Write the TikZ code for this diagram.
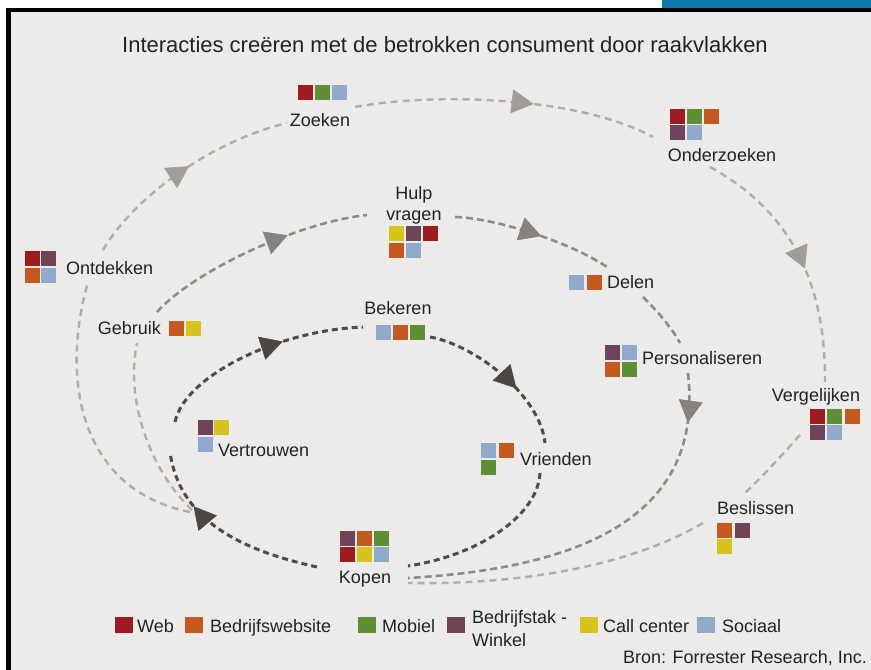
\documentclass[tikz,border=0pt]{standalone}
\usepackage{fontspec}
\setmainfont{Liberation Sans}
\usetikzlibrary{arrows.meta,decorations.markings}
\definecolor{cWeb}{HTML}{9E1C20}
\definecolor{cSite}{HTML}{C4591F}
\definecolor{cMob}{HTML}{5F8F35}
\definecolor{cShop}{HTML}{6F4358}
\definecolor{cCall}{HTML}{D6C41C}
\definecolor{cSoc}{HTML}{91A9CA}
\definecolor{cBg}{HTML}{ECEBE9}
\definecolor{cTxt}{HTML}{222222}
\definecolor{cLight}{HTML}{B0ADAA}
\definecolor{cMid}{HTML}{8E8B88}
\definecolor{cDark}{HTML}{4E4B49}
\definecolor{cLightA}{HTML}{A09C98}
\definecolor{cMidA}{HTML}{86827F}
\definecolor{cDarkA}{HTML}{4A4644}
\definecolor{cBar}{HTML}{0B78A8}
\begin{document}
\begin{tikzpicture}[x=1pt,y=-1pt,
  sq/.style={minimum width=15pt,minimum height=15pt,inner sep=0pt,outer sep=0pt},
  sqweb/.style={sq,fill=cWeb},
  sqsite/.style={sq,fill=cSite},
  sqmob/.style={sq,fill=cMob},
  sqshop/.style={sq,fill=cShop},
  sqcall/.style={sq,fill=cCall},
  sqsoc/.style={sq,fill=cSoc},
  lgsq/.style={minimum width=18pt,minimum height=16pt,inner sep=0pt,outer sep=0pt},
  lbl/.style={font=\fontsize{18}{21}\selectfont,text=cTxt,inner sep=0pt,text height=13pt,text depth=0pt},
  lbltwo/.style={font=\fontsize{18}{21}\selectfont,text=cTxt,inner sep=0pt},
  titlelbl/.style={font=\fontsize{22}{26}\selectfont,text=cTxt,inner sep=0pt,text height=16pt,text depth=0pt},
  outerline/.style={draw=cLight,line width=2.4pt,dash pattern=on 7pt off 5pt},
  midline/.style={draw=cMid,line width=2.6pt,dash pattern=on 7pt off 4pt},
  innerline/.style={draw=cDark,line width=3pt,dash pattern=on 6pt off 4pt},
  arr/.style args={#1 and #2}{postaction={decorate},decoration={markings,
     mark=at position #1 with {\arrow{Triangle[length=22pt,width=24pt,line width=0.5pt,color=#2]}}}}
]
\useasboundingbox (0,0) rectangle (871,670);
% frame
\fill[white] (0,0) rectangle (871,670);
\fill[cBar] (662,0) rectangle (871,8);
\fill[black] (6,8) rectangle (871,670);
\fill[cBg] (11,12) rectangle (871,670);

% title
\node[titlelbl] (title) at (445,44) {Interacties creëren met de betrokken consument door raakvlakken};

% Zoeken
\node[sqweb] (z1) at (305,92) {};
\node[sqmob] (z2) at (322,92) {};
\node[sqsoc] (z3) at (339,92) {};
\node[lbl] (zoeken) at (320,120) {Zoeken};

% Onderzoeken
\node[sqweb]  (on1) at (677,116) {};
\node[sqmob]  (on2) at (694,116) {};
\node[sqsite] (on3) at (711,116) {};
\node[sqshop] (on4) at (677,132) {};
\node[sqsoc]  (on5) at (694,132) {};
\node[lbl] (onderzoeken) at (722,155) {Onderzoeken};

% Ontdekken
\node[sqweb]  (ot1) at (32,258) {};
\node[sqshop] (ot2) at (48,258) {};
\node[sqsite] (ot3) at (32,275) {};
\node[sqsoc]  (ot4) at (48,275) {};
\node[lbl,anchor=west] (ontdekken) at (66,268) {Ontdekken};

% Hulp vragen
\node[lbltwo,align=center] (hulp) at (414,205) {Hulp\\vragen};
\node[sqcall] (h1) at (396,233) {};
\node[sqshop] (h2) at (413,233) {};
\node[sqweb]  (h3) at (430,233) {};
\node[sqsite] (h4) at (396,250) {};
\node[sqsoc]  (h5) at (413,250) {};

% Delen
\node[sqsoc]  (d1) at (576,282) {};
\node[sqsite] (d2) at (594,282) {};
\node[lbl,anchor=west] (delen) at (607,282) {Delen};

% Gebruik
\node[lbl,anchor=east] (gebruik) at (161,328) {Gebruik};
\node[sqsite] (g1) at (176,328) {};
\node[sqcall] (g2) at (193,328) {};

% Bekeren
\node[lbl] (bekeren) at (398,308) {Bekeren};
\node[sqsoc]  (b1) at (383,332) {};
\node[sqsite] (b2) at (400,332) {};
\node[sqmob]  (b3) at (417,332) {};

% Personaliseren
\node[sqshop] (p1) at (612,352) {};
\node[sqsoc]  (p2) at (629,352) {};
\node[sqsite] (p3) at (612,369) {};
\node[sqmob]  (p4) at (629,369) {};
\node[lbl,anchor=west] (personaliseren) at (642,358) {Personaliseren};

% Vergelijken
\node[lbl] (vergelijken) at (816,395) {Vergelijken};
\node[sqweb]  (v1) at (817,416) {};
\node[sqmob]  (v2) at (834,416) {};
\node[sqsite] (v3) at (852,416) {};
\node[sqshop] (v4) at (817,432) {};
\node[sqsoc]  (v5) at (834,432) {};

% Vertrouwen
\node[sqshop] (t1) at (205,427) {};
\node[sqcall] (t2) at (221,427) {};
\node[sqsoc]  (t3) at (205,444) {};
\node[lbl,anchor=west] (vertrouwen) at (218,450) {Vertrouwen};

% Vrienden
\node[sqsoc]  (r1) at (488,450) {};
\node[sqsite] (r2) at (506,450) {};
\node[sqmob]  (r3) at (488,467) {};
\node[lbl,anchor=west] (vrienden) at (520,459) {Vrienden};

% Beslissen
\node[lbl,anchor=west] (beslissen) at (717,508) {Beslissen};
\node[sqsite] (s1) at (724,530) {};
\node[sqshop] (s2) at (742,530) {};
\node[sqcall] (s3) at (724,546) {};

% Kopen
\node[sqshop] (k1) at (347,538) {};
\node[sqsite] (k2) at (364,538) {};
\node[sqmob]  (k3) at (381,538) {};
\node[sqweb]  (k4) at (347,554) {};
\node[sqcall] (k5) at (364,554) {};
\node[sqsoc]  (k6) at (381,554) {};
\node[lbl] (kopen) at (365,577) {Kopen};

% connector end points
\coordinate (o1s) at (103,250); \coordinate (o1e) at (287,123);
\coordinate (o2s) at (355,107); \coordinate (o2e) at (653,137);
\coordinate (o3s) at (710,167); \coordinate (o3e) at (825,382);
\coordinate (o4s) at (800,435); \coordinate (o4e) at (745,493);
\coordinate (o5s) at (703,523); \coordinate (o5e) at (408,583);
\coordinate (o6s) at (190,512); \coordinate (o6e) at (88,282);
\coordinate (m1s) at (157,312); \coordinate (m1e) at (367,215);
\coordinate (m2s) at (455,217); \coordinate (m2e) at (607,267);
\coordinate (m3s) at (643,297); \coordinate (m3e) at (680,343);
\coordinate (m4s) at (688,373); \coordinate (m4e) at (408,578);
\coordinate (m5s) at (192,510); \coordinate (m5e) at (137,343);
\coordinate (i1s) at (175,422); \coordinate (i1e) at (363,327);
\coordinate (i2s) at (430,337); \coordinate (i2e) at (545,443);
\coordinate (i3s) at (540,473); \coordinate (i3e) at (408,566);
\coordinate (i4s) at (317,567); \coordinate (i4e) at (170,452);

% outer loop
\draw[outerline,arr=0.53 and cLightA] (o1s) .. controls (135,195) and (215,140) .. (o1e);
\draw[outerline,arr=0.59 and cLightA] (o2s) .. controls (430,93) and (575,95) .. (o2e);
\draw[outerline,arr=0.55 and cLightA] (o3s) .. controls (780,205) and (826,270) .. (o3e);
\draw[outerline] (o4s) .. controls (782,455) and (764,475) .. (o4e);
\draw[outerline] (o5s) .. controls (630,566) and (520,585) .. (o5e);
\draw[outerline] (o6s) .. controls (80,490) and (60,380) .. (o6e);
% middle loop
\draw[midline,arr=0.65 and cMidA] (m1s) .. controls (195,270) and (300,222) .. (m1e);
\draw[midline,arr=0.55 and cMidA] (m2s) .. controls (495,218) and (570,242) .. (m2e);
\draw[midline] (m3s) .. controls (656,310) and (670,325) .. (m3e);
\draw[midline,arr=0.125 and cMidA] (m4s) .. controls (700,480) and (640,565) .. (m4e);
\draw[outerline] (m5s) .. controls (150,470) and (125,400) .. (m5e);
% inner loop
\draw[innerline,arr=0.63 and cDarkA] (i1s) .. controls (185,375) and (280,330) .. (i1e);
\draw[innerline,arr=0.62 and cDarkA] (i2s) .. controls (475,345) and (540,395) .. (i2e);
\draw[innerline] (i3s) .. controls (538,515) and (480,555) .. (i3e);
\draw[innerline,arr=0.70 and cDarkA] (i4s) .. controls (250,552) and (180,525) .. (i4e);

% legend
\node[lgsq,fill=cWeb]  (lg1) at (124,625) {};
\node[lbl,anchor=west] (lt1) at (137,626) {Web};
\node[lgsq,fill=cSite] (lg2) at (194,625) {};
\node[lbl,anchor=west] (lt2) at (210,626) {Bedrijfswebsite};
\node[lgsq,fill=cMob]  (lg3) at (367,625) {};
\node[lbl,anchor=west] (lt3) at (382,626) {Mobiel};
\node[lgsq,fill=cShop] (lg4) at (456,625) {};
\node[lbltwo,anchor=west,align=left,font=\fontsize{18}{23}\selectfont] (lt4) at (472,628.5) {Bedrijfstak -\\Winkel};
\node[lgsq,fill=cCall] (lg5) at (589,625) {};
\node[lbl,anchor=west] (lt5) at (603,626) {Call center};
\node[lgsq,fill=cSoc]  (lg6) at (706,625) {};
\node[lbl,anchor=west] (lt6) at (722,626) {Sociaal};
\node[lbl,anchor=east] (bron) at (867,657) {Bron: Forrester Research, Inc.};
\end{tikzpicture}
\end{document}
